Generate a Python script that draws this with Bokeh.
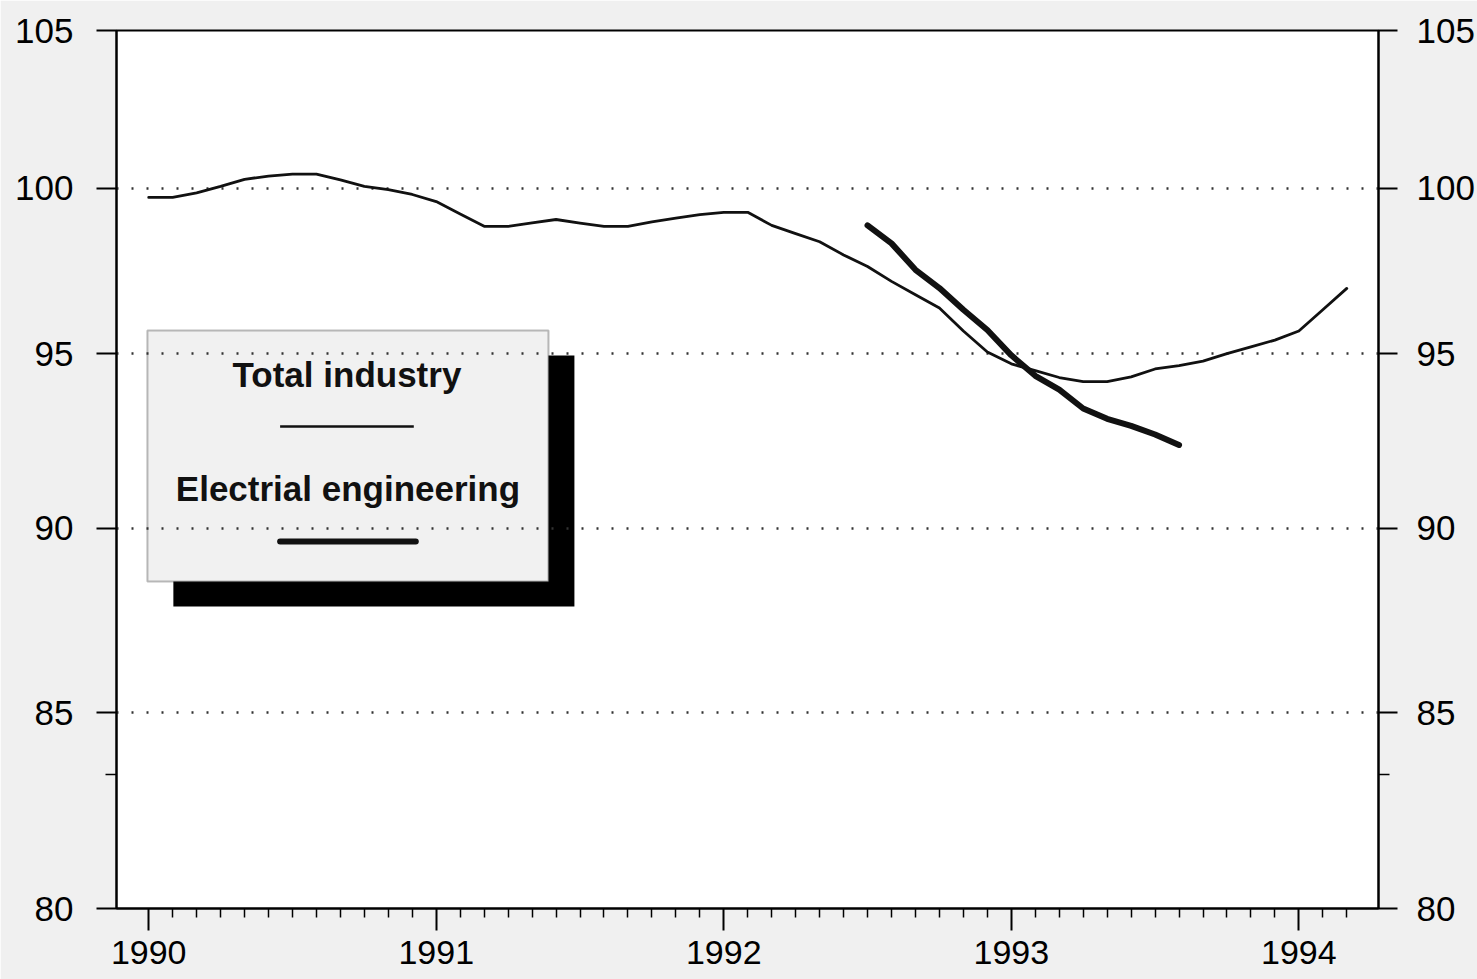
import math
from bokeh.plotting import figure
from bokeh.models import (LogAxis, FixedTicker, PrintfTickFormatter, BoxAnnotation,
                          Label, Arrow, Range1d)
from bokeh.embed import file_html
from bokeh.resources import INLINE

# ---------------- data ----------------
# monthly index, 0 = January 1990
total_months = list(range(51))
total_industry = [99.71, 99.71, 99.85, 100.05, 100.27, 100.37, 100.43, 100.43, 100.25, 100.05,
                  99.95, 99.80, 99.58, 99.20, 98.82, 98.82, 98.93, 99.03, 98.92, 98.82,
                  98.82, 98.96, 99.07, 99.18, 99.25, 99.25, 98.85, 98.60, 98.35, 97.95,
                  97.60, 97.15, 96.75, 96.35, 95.67, 95.05, 94.70, 94.50, 94.30, 94.18,
                  94.18, 94.32, 94.55, 94.65, 94.78, 95.00, 95.20, 95.40, 95.67, 96.30,
                  96.94]
elec_months = list(range(30, 44))
electrical_engineering = [98.85, 98.30, 97.50, 96.95, 96.30, 95.70, 94.95, 94.35, 93.95, 93.40,
                          93.10, 92.90, 92.65, 92.35]

year_ticks = [1990, 1991, 1992, 1993, 1994]
y_ticks = [80, 85, 90, 95, 100, 105]
y_minor = [83.4]
grid_levels = [85, 90, 95, 100]
legend_labels = ["Total industry", "Electrial engineering"]

x_total = [1990 + m / 12 for m in total_months]
x_elec = [1990 + m / 12 for m in elec_months]
month_ticks = [1990 + k / 12 for k in range(1, 51) if k % 12 != 0]

# ---------------- layout helpers (page pixels -> data) ----------------
W, H = 1477, 979
FL, FR, FT, FB = 116, 1381, 30, 908
X0, X1 = 1989.888, 1994.277
Y0, Y1 = 80, 105

def sx(px):
    return X0 + (px - FL) / (FR - FL) * (X1 - X0)

def sy(py):
    return Y1 * (Y0 / Y1) ** ((py - FT) / (FB - FT))

FONT = "Liberation Sans"

p = figure(width=W, height=H, output_backend="svg", toolbar_location=None,
           x_range=Range1d(X0, X1), y_range=Range1d(Y0, Y1), y_axis_type="log",
           min_border_left=FL, min_border_right=W - FR,
           min_border_top=FT, min_border_bottom=H - FB,
           background_fill_color="white", border_fill_color="#f0f0f0",
           outline_line_color="black", outline_line_width=2)

# grid
p.xgrid.visible = False
p.ygrid.ticker = FixedTicker(ticks=grid_levels)
p.ygrid.grid_line_color = "#333333"
p.ygrid.grid_line_dash = "2 13"
p.ygrid.grid_line_width = 2.5

# x axis
xa = p.xaxis[0]
xa.ticker = FixedTicker(ticks=year_ticks, minor_ticks=month_ticks)
xa.major_tick_out = 22
xa.major_tick_in = 0
xa.minor_tick_out = 9
xa.minor_tick_in = 0
xa.major_tick_line_width = 2
xa.minor_tick_line_width = 1.5
xa.axis_line_width = 2
xa.major_label_text_font = FONT
xa.major_label_text_font_size = "34px"
xa.major_label_text_color = "black"
xa.major_label_standoff = 10

# left y axis
ya = p.yaxis[0]
ya.ticker = FixedTicker(ticks=y_ticks, minor_ticks=y_minor)
ya.formatter = PrintfTickFormatter(format="%d")
ya.major_tick_out = 20
ya.major_tick_in = 0
ya.minor_tick_out = 11
ya.minor_tick_in = 0
ya.major_tick_line_width = 2
ya.minor_tick_line_width = 1.5
ya.axis_line_width = 2
ya.major_label_text_font = FONT
ya.major_label_text_font_size = "35px"
ya.major_label_text_color = "black"
ya.major_label_standoff = 23

# right y axis
ra = LogAxis(ticker=FixedTicker(ticks=y_ticks, minor_ticks=y_minor),
             formatter=PrintfTickFormatter(format="%d"),
             major_tick_out=19, major_tick_in=0, minor_tick_out=11, minor_tick_in=0,
             major_tick_line_width=2, minor_tick_line_width=1.5, axis_line_width=2,
             major_label_text_font=FONT, major_label_text_font_size="35px",
             major_label_text_color="black", major_label_standoff=19)
p.add_layout(ra, "right")

# legend box with drop shadow (under the dotted grid)
shadow = BoxAnnotation(left=sx(173), right=sx(575), top=sy(355), bottom=sy(606),
                       fill_color="black", fill_alpha=1.0, line_alpha=0, level="image")
box = BoxAnnotation(left=sx(147), right=sx(549), top=sy(330), bottom=sy(581),
                    fill_color="#f1f1f1", fill_alpha=1.0, line_color="#222222",
                    line_width=2, level="image")
p.add_layout(shadow)
p.add_layout(box)

# data lines
p.line(x_total, total_industry, line_width=2.8, line_color="#111111",
       line_join="round", line_cap="round")
p.line(x_elec, electrical_engineering, line_width=6, line_color="#111111",
       line_join="round", line_cap="round")

# legend texts and samples
p.add_layout(Label(x=sx(347), y=sy(374), text=legend_labels[0], text_align="center",
                   text_baseline="middle", text_font=FONT, text_font_style="bold",
                   text_font_size="35px", text_color="#111111"))
p.add_layout(Label(x=sx(348), y=sy(488), text=legend_labels[1], text_align="center",
                   text_baseline="middle", text_font=FONT, text_font_style="bold",
                   text_font_size="35px", text_color="#111111"))
p.add_layout(Arrow(end=None, x_start=sx(280), y_start=sy(426), x_end=sx(414), y_end=sy(426),
                   line_width=2.5, line_color="#111111"))
p.add_layout(Arrow(end=None, x_start=sx(280), y_start=sy(541), x_end=sx(416), y_end=sy(541),
                   line_width=6, line_color="#111111", line_cap="round"))

open("out.html", "w").write(file_html(p, INLINE))
